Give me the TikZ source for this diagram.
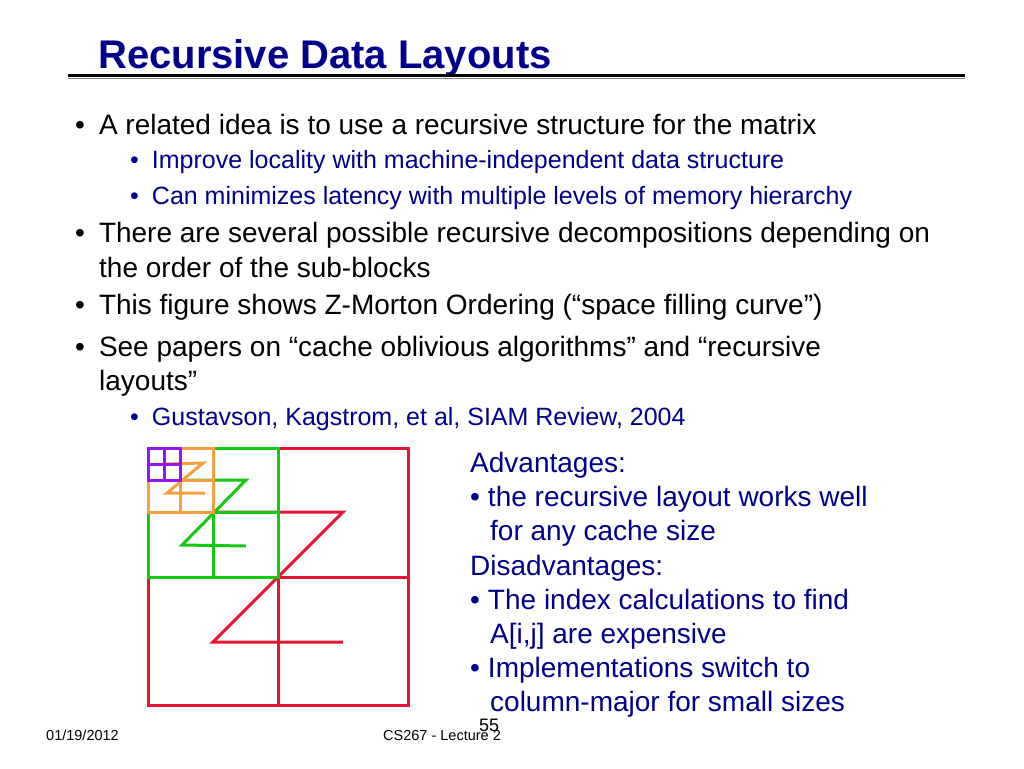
\documentclass[tikz,border=0pt]{standalone}
\usepackage{fontspec}
\setmainfont{Liberation Sans}
\definecolor{navy}{RGB}{0,0,140}
\definecolor{zred}{RGB}{230,20,50}
\definecolor{zgreen}{RGB}{20,200,20}
\definecolor{zorange}{RGB}{245,160,60}
\definecolor{zpurple}{RGB}{150,20,240}
\tikzset{
  lvlone/.style={anchor=base west, inner sep=0pt, font=\fontsize{28}{34}\selectfont},
  lvltwo/.style={anchor=base west, inner sep=0pt, text=navy, font=\fontsize{25}{28}\selectfont},
  side/.style={anchor=base west, inner sep=0pt, text=navy, font=\fontsize{28}{34}\selectfont},
  foot/.style={anchor=base west, inner sep=0pt, font=\fontsize{14.5}{18}\selectfont},
}
\begin{document}
\begin{tikzpicture}[x=1pt,y=-1pt]
\useasboundingbox (0,0) rectangle (1024,768);

% title
\node[anchor=base west, inner sep=0pt, text=navy, font=\fontsize{40}{44}\selectfont\bfseries] (title) at (98,68) {Recursive Data Layouts};
\draw[line width=3pt] (68,75) -- (965,75);
\draw[line width=1.5pt, gray] (68,78.5) -- (965,78.5);

% bullets
\node[lvlone] (b1) at (75,134) {\textbullet\hspace{14pt}A related idea is to use a recursive structure for the matrix};
\node[lvltwo] (b1a) at (130,168) {\textbullet\hspace{13pt}Improve locality with machine-independent data structure};
\node[lvltwo] (b1b) at (130,204) {\textbullet\hspace{13pt}Can minimizes latency with multiple levels of memory hierarchy};
\node[lvlone] (b2) at (75,242) {\textbullet\hspace{14pt}There are several possible recursive decompositions depending on};
\node[lvlone] (b2b) at (99,277) {the order of the sub-blocks};
\node[lvlone] (b3) at (75,314) {\textbullet\hspace{14pt}This figure shows Z-Morton Ordering (\char"201Cspace filling curve\char"201D)};
\node[lvlone] (b4) at (75,356) {\textbullet\hspace{14pt}See papers on \char"201Ccache oblivious algorithms\char"201D{} and \char"201Crecursive};
\node[lvlone] (b4b) at (99,390) {layouts\char"201D};
\node[lvltwo] (b4a) at (130,425) {\textbullet\hspace{13pt}Gustavson, Kagstrom, et al, SIAM Review, 2004};

% side text
\node[side] (adv) at (470,472) {Advantages:};
\node[side] (adv1) at (470,506) {\textbullet\hspace{8pt}the recursive layout works well};
\node[side] (adv2) at (490,540) {for any cache size};
\node[side] (dis) at (470,575) {Disadvantages:};
\node[side] (dis1) at (470,609) {\textbullet\hspace{8pt}The index calculations to find};
\node[side] (dis2) at (490,643) {A[i,j] are expensive};
\node[side] (dis3) at (470,677) {\textbullet\hspace{8pt}Implementations switch to};
\node[side] (dis4) at (490,711) {column-major for small sizes};

% footer
\node[foot] (date) at (46,740) {01/19/2012};
\node[foot] (lect) at (383,740) {CS267 - Lecture 2};
\node[foot, font=\fontsize{18}{20}\selectfont] (page) at (479,731) {55};

% Z-Morton blocks
\draw[zred, line width=3pt] (148,448) rectangle (408,705) (278,448) -- (278,705) (148,577) -- (408,577);
\draw[zred, line width=3pt] (213,512) -- (343,512) -- (213,642) -- (343,642);
\draw[zgreen, line width=3pt] (148,448) rectangle (278,577) (213,448) -- (213,577) (148,512) -- (278,512);
\draw[zgreen, line width=3pt] (180,480) -- (246,480) -- (182,545) -- (246,546);
\draw[zorange, line width=3pt] (148,448) rectangle (213,512) (180,448) -- (180,512) (148,480) -- (213,480);
\draw[zorange, line width=3pt] (164,464) -- (203,463) -- (167,493) -- (205,493);
\draw[zpurple, line width=3pt] (148,448) rectangle (180,480) (164,448) -- (164,480) (148,464) -- (180,464);
\end{tikzpicture}
\end{document}
